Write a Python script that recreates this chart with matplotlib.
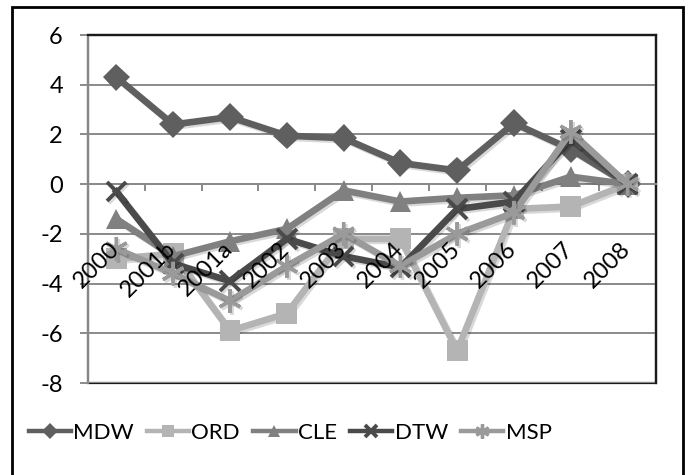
import matplotlib
matplotlib.use("Agg")
import matplotlib.pyplot as plt
import matplotlib.patheffects as pe
import matplotlib.transforms as mtransforms
from matplotlib.patches import Rectangle
import numpy as np

plt.rcParams['font.family'] = ['Lato', 'DejaVu Sans']
plt.rcParams['axes.unicode_minus'] = False

categories = ["2000", "2001b", "2001a", "2002", "2003", "2004", "2005", "2006", "2007", "2008"]
mdw = [4.3, 2.4, 2.7, 1.95, 1.85, 0.85, 0.55, 2.45, 1.4, 0.0]
ord_ = [-3.0, -2.8, -5.9, -5.2, -2.2, -2.2, -6.7, -1.0, -0.9, 0.0]
cle = [-1.4, -2.9, -2.3, -1.8, -0.25, -0.7, -0.55, -0.45, 0.3, 0.0]
dtw = [-0.3, -3.2, -3.9, -2.2, -2.9, -3.35, -1.0, -0.7, 1.8, 0.0]
msp = [-2.6, -3.6, -4.7, -3.3, -2.0, -3.3, -2.0, -1.15, 2.1, 0.0]

names = ["MDW", "ORD", "CLE", "DTW", "MSP"]
values = [mdw, ord_, cle, dtw, msp]
colors = ["#5f5f5f", "#b4b4b4", "#808080", "#4a4a4a", "#9a9a9a"]

fig = plt.figure(figsize=(6.91, 4.75), dpi=100)
ax = fig.add_axes([88 / 691, 1 - 383 / 475, (656 - 88) / 691, (383 - 35) / 475])

x = np.arange(len(categories))
shadow = [pe.SimpleLineShadow(offset=(1.5, -1.5), shadow_color="#000000", alpha=0.15), pe.Normal()]

marker_style = {
    "MDW": dict(marker="D", markersize=14, markeredgewidth=0),
    "ORD": dict(marker="s", markersize=15, markeredgewidth=0),
    "CLE": dict(marker="^", markersize=15, markeredgewidth=0),
    "DTW": dict(marker="x", markersize=14, markeredgewidth=2.8),
    "MSP": dict(marker=(6, 2, 0), markersize=17, markeredgewidth=2.4),
}

handles = []
for name, vals, col in zip(names, values, colors):
    line, = ax.plot(x, vals, color=col, lw=4.8, solid_joinstyle="miter",
                    markerfacecolor=col, markeredgecolor=col,
                    path_effects=shadow, zorder=3, **marker_style[name])
    handles.append(line)

ax.set_xlim(-0.5, len(categories) - 0.5)
ax.set_ylim(-8, 6)
ax.set_yticks(np.arange(-8, 7, 2))
ax.yaxis.grid(True, color="#8a8a8a", lw=1.4)
ax.set_axisbelow(True)

# category axis crosses the value axis at zero
ax.spines["bottom"].set_position(("data", 0))
ax.spines["bottom"].set_color("#8a8a8a")
ax.spines["bottom"].set_linewidth(1.4)
ax.spines["left"].set_color("#8a8a8a")
ax.spines["left"].set_linewidth(1.4)
for s in ("top", "right"):
    ax.spines[s].set_color("#1a1a1a")
    ax.spines[s].set_linewidth(1.6)
ax.add_patch(Rectangle((0, 0), 1, 1, transform=ax.transAxes, fill=False,
                       edgecolor="#1a1a1a", lw=1.6, zorder=0.5, clip_on=False))

ax.set_xticks(x - 0.5, minor=True)
ax.set_xticks(x)
ax.set_xticklabels([])
ax.tick_params(axis="x", which="major", length=0)
ax.tick_params(axis="x", which="minor", length=5, width=1.4, color="#8a8a8a", direction="out")
ax.tick_params(axis="y", length=6, width=1.4, color="#8a8a8a", pad=12, labelsize=17)

# category labels sit on top of the series, just under the zero line
lbl_offset = mtransforms.ScaledTranslation(-8 / 100, -54 / 100, fig.dpi_scale_trans)
for xi, cat in zip(x, categories):
    ax.text(xi, 0, cat, transform=ax.transData + lbl_offset, rotation=45,
            ha="right", va="top", rotation_mode="anchor", fontsize=17,
            color="black", zorder=6)

leg = fig.legend(handles, names, loc="center",
                 bbox_to_anchor=(290 / 691, 1 - 433 / 475), ncol=5, frameon=False,
                 fontsize=16, handlelength=1.9, handletextpad=0.1, columnspacing=0.6,
                 markerscale=0.6)
for h in leg.legend_handles:
    h.set_linewidth(3.2)
    h.set_path_effects([])

# outer chart frame
fig.add_artist(Rectangle((12 / 691, -0.01), (683 - 12) / 691, 1 - 7 / 475 + 0.01,
                         transform=fig.transFigure, fill=False, edgecolor="black", lw=2))

fig.savefig("out.png", dpi=100)
